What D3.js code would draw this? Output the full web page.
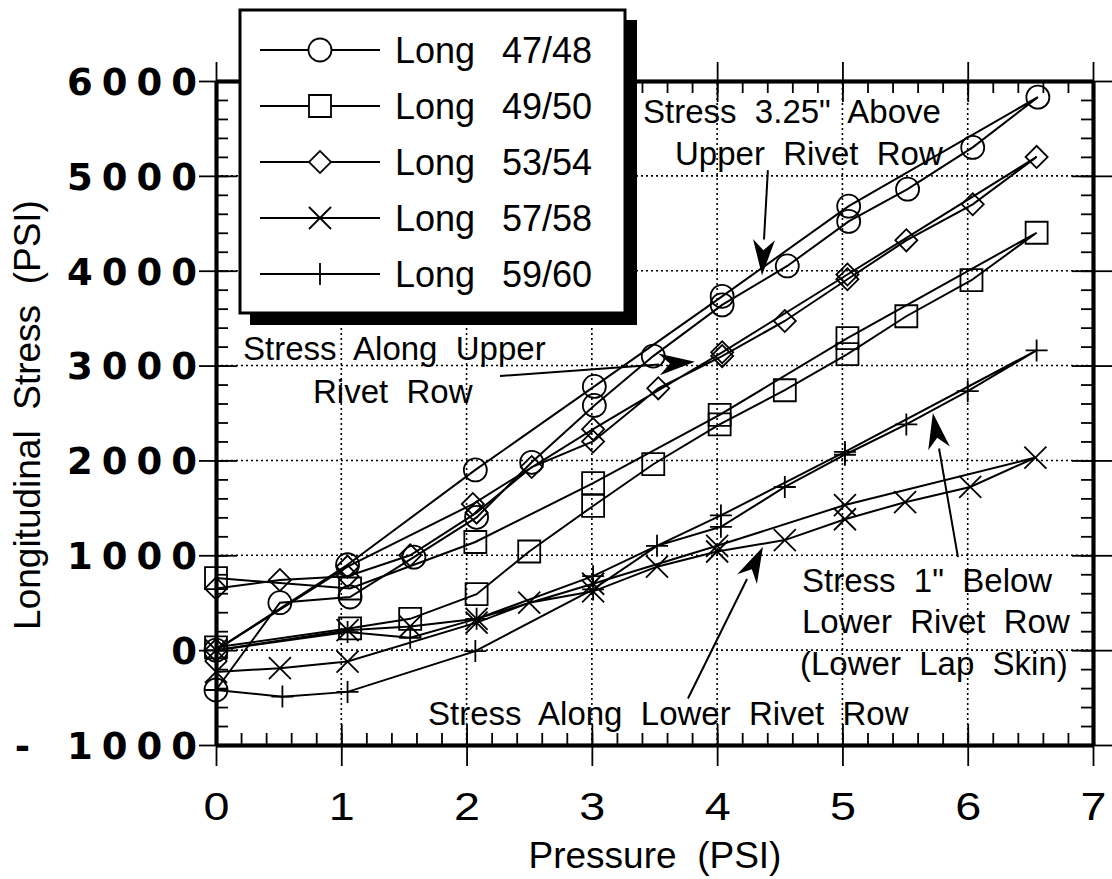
<!DOCTYPE html>
<html>
<head>
<meta charset="utf-8">
<script src="https://cdn.jsdelivr.net/npm/d3@7"></script>
<style>
  html, body { margin: 0; padding: 0; background: #fff; }
  svg { display: block; font-family: "Liberation Sans", Arial, Helvetica, sans-serif; }
  svg text { white-space: pre; fill: #000; }
</style>
</head>
<body>
<div id="chart"></div>
<script>
// Axis ticks
const pressureTicks = [0, 1, 2, 3, 4, 5, 6, 7];
const stressTicks = [-1000, 0, 1000, 2000, 3000, 4000, 5000, 6000];
const pressureMinor = d3.range(0, 7.001, 0.2);
const stressMinor = d3.range(-1000, 6001, 200);
const gridPressure = [1, 2, 3, 4, 5, 6];
const gridStress = [0, 1000, 2000, 3000, 4000, 5000];

// Legend labels
const seriesLabels = ["47/48", "49/50", "53/54", "57/58", "59/60"];

// Each gauge pair: loading in ~1 psi steps, then unloading in ~0.5 psi steps
const long4748Pressure = [0, 1.05, 2.07, 3.02, 4.04, 5.05, 6.56, 6.04, 5.52, 5.05, 4.56, 4.04, 3.49, 3.02, 2.52, 2.08, 1.58, 1.07, 0.51, 0];
const long4748Stress   = [0, 900, 1900, 2780, 3730, 4680, 5830, 5300, 4860, 4520, 4050, 3640, 3100, 2580, 1980, 1400, 980, 560, 500, -420];

const long4950Pressure = [0, 1.07, 2.07, 3.01, 4.02, 5.04, 6.55, 6.03, 5.51, 5.04, 4.54, 4.02, 3.49, 3.01, 2.5, 2.08, 1.55, 1.07, 0];
const long4950Stress   = [760, 650, 1140, 1760, 2480, 3290, 4400, 3900, 3520, 3120, 2740, 2380, 1960, 1520, 1040, 590, 330, 230, 30];

const long5354Pressure = [0, 1.05, 2.05, 3.01, 4.04, 5.04, 6.55, 6.04, 5.51, 5.04, 4.54, 4.04, 3.53, 3.01, 2.52, 2.08, 1.55, 1.05, 0.51, 0];
const long5354Stress   = [0, 880, 1540, 2330, 3140, 3960, 5200, 4700, 4320, 3910, 3470, 3100, 2760, 2200, 1930, 1450, 1000, 780, 740, 650];

const long5758Pressure = [0, 1.05, 1.55, 2.08, 3.01, 4.0, 5.02, 6.54, 6.02, 5.5, 5.02, 4.54, 4.0, 3.52, 3.01, 2.5, 2.08, 1.05, 0.51, 0];
const long5758Stress   = [0, 210, 250, 330, 700, 1100, 1530, 2030, 1720, 1560, 1380, 1160, 1040, 880, 620, 500, 290, -120, -190, -230];

const long5960Pressure = [0, 1.05, 1.55, 2.08, 3.01, 4.03, 5.02, 6.55, 6.0, 5.51, 5.02, 4.54, 4.03, 3.52, 3.01, 2.07, 1.05, 0.53, 0];
const long5960Stress   = [0, 190, 130, 330, 780, 1420, 2090, 3160, 2730, 2380, 2060, 1720, 1300, 1100, 640, -10, -440, -490, -420];

const series = [
  { label: seriesLabels[0], pressure: long4748Pressure, stress: long4748Stress, symbol: "circle" },
  { label: seriesLabels[1], pressure: long4950Pressure, stress: long4950Stress, symbol: "square" },
  { label: seriesLabels[2], pressure: long5354Pressure, stress: long5354Stress, symbol: "diamond" },
  { label: seriesLabels[3], pressure: long5758Pressure, stress: long5758Stress, symbol: "times" },
  { label: seriesLabels[4], pressure: long5960Pressure, stress: long5960Stress, symbol: "plus" }
];

// Annotation text and arrows (arrow ends in data units)
const annotations = [
  { lines: ["Stress  3.25\"  Above", "Upper  Rivet  Row"], x: [643, 675], y: [123, 165] },
  { lines: ["Stress  Along  Upper", "Rivet  Row"], x: [243, 313], y: [360, 403] },
  { lines: ["Stress  Along  Lower  Rivet  Row"], x: [428], y: [725] },
  { lines: ["Stress  1\"  Below", "Lower  Rivet  Row", "(Lower  Lap  Skin)"], x: [802, 802, 800], y: [592, 633, 675] }
];
const arrows = [
  { from: [4.405, 5060], to: [4.358, 3950] },
  { from: [2.267, 2890], to: [3.823, 3040] },
  { from: [3.767, -510], to: [4.366, 1090] },
  { from: [5.922, 980], to: [5.722, 2500] }
];

const width = 1112, height = 879;
const svg = d3.select("#chart").append("svg")
  .attr("width", width)
  .attr("height", height);

svg.append("rect").attr("width", width).attr("height", height).attr("fill", "#fff");

const x = d3.scaleLinear().domain([0, 7]).range([216, 1093]);
const y = d3.scaleLinear().domain([-1000, 6000]).range([745, 81]);

// Dotted grid
const grid = svg.append("g")
  .attr("stroke", "#000")
  .attr("stroke-width", 1.6)
  .attr("stroke-dasharray", "2,3");
grid.selectAll(".gx").data(gridPressure).join("line")
  .attr("x1", d => x(d)).attr("x2", d => x(d))
  .attr("y1", y(-1000)).attr("y2", y(6000));
grid.selectAll(".gy").data(gridStress).join("line")
  .attr("x1", x(0)).attr("x2", x(7))
  .attr("y1", d => y(d)).attr("y2", d => y(d));

// Axes: outer major ticks, inner major ticks and inner minor ticks on all four sides
function axisLayer(axisFn, scale, translate, values, size, fmt) {
  const g = svg.append("g")
    .attr("transform", translate)
    .call(axisFn(scale).tickValues(values).tickSizeInner(size).tickSizeOuter(0).tickFormat(fmt || (() => "")));
  g.select(".domain").attr("stroke", "#000").attr("stroke-width", 3.5);
  g.selectAll(".tick line").attr("stroke", "#000").attr("stroke-width", 1.8);
  return g;
}

const xb = `translate(0,${y(-1000)})`, xt = `translate(0,${y(6000)})`;
const yl = `translate(${x(0)},0)`, yr = `translate(${x(7)},0)`;

const bottomAxis = axisLayer(d3.axisBottom, x, xb, pressureTicks, 21, d => d);
axisLayer(d3.axisBottom, x, xb, pressureTicks, -21);
axisLayer(d3.axisBottom, x, xb, pressureMinor, -12);

axisLayer(d3.axisTop, x, xt, pressureTicks, 19);
axisLayer(d3.axisTop, x, xt, pressureTicks, -21);
axisLayer(d3.axisTop, x, xt, pressureMinor, -12);

const leftAxis = axisLayer(d3.axisLeft, y, yl, stressTicks, 17, d => d);
axisLayer(d3.axisLeft, y, yl, stressTicks, -21);
axisLayer(d3.axisLeft, y, yl, stressMinor, -12);

axisLayer(d3.axisRight, y, yr, stressTicks, 20);
axisLayer(d3.axisRight, y, yr, stressTicks, -21);
axisLayer(d3.axisRight, y, yr, stressMinor, -12);

// Tick labels: slightly wide x digits, heavy spaced y digits
bottomAxis.selectAll(".tick text")
  .attr("y", 75).attr("dy", null)
  .attr("fill", "#000")
  .attr("textLength", 26)
  .attr("lengthAdjust", "spacingAndGlyphs")
  .style("font-size", "38px")
  .style("font-family", "'Liberation Sans', Arial, sans-serif");

leftAxis.selectAll(".tick text")
  .attr("fill", "#000")
  .attr("text-anchor", "end")
  .attr("dy", "0.36em")
  .style("font-size", "37px")
  .style("font-weight", "bold")
  .style("letter-spacing", "9px")
  .style("font-family", "'DejaVu Sans', sans-serif")
  .each(function(d) {
    const t = d3.select(this);
    const digits = String(Math.abs(d));
    t.text(null);
    if (d < 0) {
      t.append("tspan").attr("x", -177).text("-");
    }
    t.append("tspan").attr("x", -10).text(digits);
  });

// Axis titles
svg.append("text")
  .attr("x", 655).attr("y", 868)
  .attr("text-anchor", "middle")
  .style("font-size", "37px")
  .text("Pressure  (PSI)");

svg.append("text")
  .attr("transform", "translate(40,415) rotate(-90)")
  .attr("text-anchor", "middle")
  .style("font-size", "37px")
  .text("Longitudinal  Stress  (PSI)");

// Marker shapes
function markerPath(type) {
  if (type === "circle") return d3.symbol(d3.symbolCircle, Math.PI * 11.5 * 11.5)();
  if (type === "square") return d3.symbol(d3.symbolSquare, 22 * 22)();
  if (type === "diamond") return d3.symbol(d3.symbolSquare, 15.6 * 15.6)();
  if (type === "times") return "M-11,-11L11,11M-11,11L11,-11";
  return "M-11,0L11,0M0,-11L0,11";
}
function markerTransform(type, px, py) {
  return `translate(${px},${py})` + (type === "diamond" ? " rotate(45)" : "");
}

// Data lines and markers
const line = d3.line().x(d => x(d[0])).y(d => y(d[1]));
const plot = svg.append("g");
series.forEach(s => {
  const pts = s.pressure.map((p, i) => [p, s.stress[i]]);
  plot.append("path")
    .datum(pts)
    .attr("d", line)
    .attr("fill", "none")
    .attr("stroke", "#000")
    .attr("stroke-width", 2);
  plot.append("g").selectAll("path").data(pts).join("path")
    .attr("d", markerPath(s.symbol))
    .attr("transform", d => markerTransform(s.symbol, x(d[0]), y(d[1])))
    .attr("fill", "none")
    .attr("stroke", "#000")
    .attr("stroke-width", 1.8);
});

// Annotations
const notes = svg.append("g");
annotations.forEach(a => {
  a.lines.forEach((t, i) => {
    notes.append("text")
      .attr("x", a.x[i]).attr("y", a.y[i])
      .style("font-size", "33px")
      .text(t);
  });
});

arrows.forEach(a => {
  const x1 = x(a.from[0]), y1 = y(a.from[1]);
  const x2 = x(a.to[0]), y2 = y(a.to[1]);
  const ang = Math.atan2(y2 - y1, x2 - x1);
  const hl = 36, hw = 11;
  const bx = x2 - hl * Math.cos(ang), by = y2 - hl * Math.sin(ang);
  svg.append("line")
    .attr("x1", x1).attr("y1", y1).attr("x2", bx).attr("y2", by)
    .attr("stroke", "#000").attr("stroke-width", 2);
  const pts = [
    [x2, y2],
    [bx + hw * Math.sin(ang), by - hw * Math.cos(ang)],
    [bx + 0.3 * hl * Math.cos(ang), by + 0.3 * hl * Math.sin(ang)],
    [bx - hw * Math.sin(ang), by + hw * Math.cos(ang)]
  ];
  svg.append("path").attr("d", "M" + pts.join("L") + "Z").attr("fill", "#000");
});

// Legend box with drop shadow
const legend = svg.append("g");
legend.append("rect").attr("x", 250).attr("y", 20).attr("width", 387).attr("height", 305).attr("fill", "#000");
legend.append("rect").attr("x", 240).attr("y", 10).attr("width", 385).attr("height", 303)
  .attr("fill", "#fff").attr("stroke", "#000").attr("stroke-width", 3);

const legendRows = [50, 106, 162, 218, 274];
series.forEach((s, i) => {
  const ry = legendRows[i];
  legend.append("line").attr("x1", 260).attr("x2", 380).attr("y1", ry).attr("y2", ry)
    .attr("stroke", "#000").attr("stroke-width", 2);
  legend.append("path")
    .attr("d", markerPath(s.symbol))
    .attr("transform", markerTransform(s.symbol, 320, ry))
    .attr("fill", s.symbol === "circle" || s.symbol === "square" || s.symbol === "diamond" ? "#fff" : "none")
    .attr("stroke", "#000").attr("stroke-width", 1.8);
  const t = legend.append("text").attr("y", ry + 12.5).style("font-size", "36px");
  t.append("tspan").attr("x", 395).text("Long");
  t.append("tspan").attr("x", 502).text(s.label);
});
</script>
</body>
</html>
